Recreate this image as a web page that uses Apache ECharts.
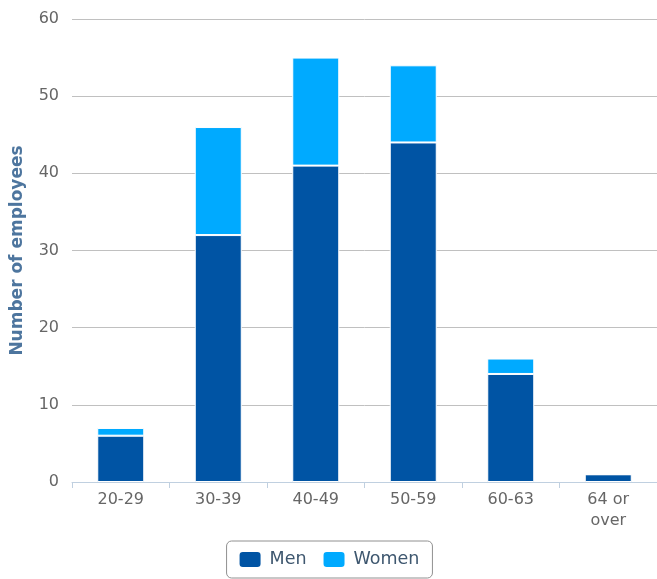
<!DOCTYPE html>
<html>
<head>
<meta charset="utf-8">
<script src="https://cdn.jsdelivr.net/npm/echarts@6/dist/echarts.min.js"></script>
<style>html,body{margin:0;padding:0;background:#fff}#c{width:657px;height:579px}</style>
</head>
<body>
<div id="c"></div>
<script>
const categories = ['20-29', '30-39', '40-49', '50-59', '60-63', '64 or\nover'];
const men = [6, 32, 41, 44, 14, 1];
const women = [1, 14, 14, 10, 2, 0];
const yTicks = { min: 0, max: 60, interval: 10 };

const chart = echarts.init(document.getElementById('c'), null, { renderer: 'canvas' });
const font = 'Verdana, "DejaVu Sans", sans-serif';
chart.setOption({
  animation: false,
  textStyle: { fontFamily: font },
  grid: { left: 72, right: 0, top: 19, bottom: 97, containLabel: false, outerBoundsMode: 'none' },
  legend: {
    data: ['Men', 'Women'],
    left: 'center',
    top: 541,
    padding: [9, 13, 9, 11],
    itemGap: 15,
    itemWidth: 23,
    itemHeight: 17,
    borderColor: '#909090',
    borderWidth: 1,
    borderRadius: 5,
    icon: 'roundRect',
    textStyle: { color: '#3E576F', fontSize: 17.5, fontFamily: font, padding: [0, 0, 0, 3] }
  },
  xAxis: {
    type: 'category',
    data: categories,
    axisLine: { lineStyle: { color: '#C0D0E0', width: 1 } },
    axisTick: { show: true, length: 6, lineStyle: { color: '#C0D0E0' } },
    axisLabel: { color: '#666', fontSize: 16, margin: 7, lineHeight: 21, fontFamily: font }
  },
  yAxis: {
    type: 'value',
    min: yTicks.min, max: yTicks.max, interval: yTicks.interval,
    name: 'Number of employees',
    nameLocation: 'middle',
    nameGap: 46,
    nameTextStyle: { color: '#4D759E', fontWeight: 'bold', fontSize: 17, fontFamily: font },
    axisLine: { show: false },
    axisTick: { show: false },
    axisLabel: { color: '#666', fontSize: 16, margin: 13, fontFamily: font },
    splitLine: { lineStyle: { color: '#C0C0C0', width: 1 } }
  },
  series: [
    {
      name: 'Men', type: 'bar', stack: 'a', data: men, barWidth: 47,
      itemStyle: { color: '#0054A4', borderColor: '#fff', borderWidth: 1 }
    },
    {
      name: 'Women', type: 'bar', stack: 'a', data: women, barWidth: 47,
      itemStyle: { color: '#00AAFF', borderColor: '#fff', borderWidth: 1 }
    }
  ]
});
</script>
</body>
</html>
